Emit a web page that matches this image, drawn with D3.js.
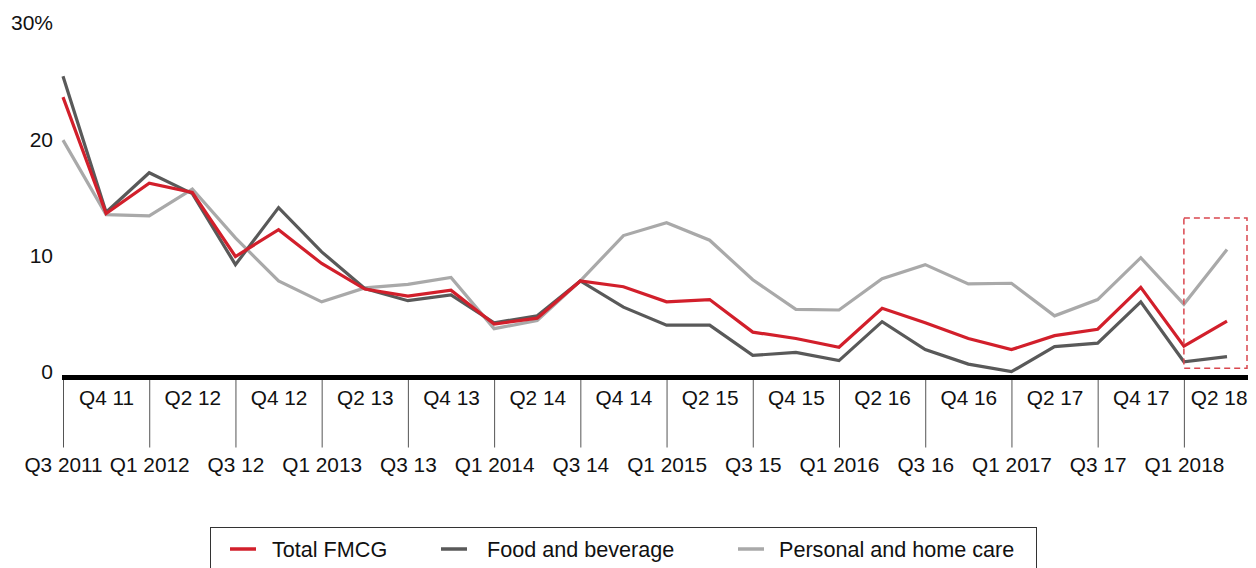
<!DOCTYPE html>
<html>
<head>
<meta charset="utf-8">
<script src="https://cdn.jsdelivr.net/npm/d3@7/dist/d3.min.js"></script>
<style>
  body { margin: 0; background: #fff; }
  svg text { font-family: "Liberation Sans", Arial, sans-serif; fill: #111; }
</style>
</head>
<body>
<svg id="chart" width="1256" height="568"></svg>
<script>
// quarters Q3 2011 .. Q2 2018
let quarters = ["Q3 11", "Q4 11", "Q1 12", "Q2 12", "Q3 12", "Q4 12", "Q1 13", "Q2 13",
    "Q3 13", "Q4 13", "Q1 14", "Q2 14", "Q3 14", "Q4 14", "Q1 15", "Q2 15",
    "Q3 15", "Q4 15", "Q1 16", "Q2 16", "Q3 16", "Q4 16", "Q1 17", "Q2 17",
    "Q3 17", "Q4 17", "Q1 18", "Q2 18"];

let totalFmcg = [23.8, 13.8, 16.4, 15.6, 10.1, 12.4, 9.5, 7.3, 6.7, 7.2, 4.3, 4.8, 8.0, 7.5,
    6.2, 6.4, 3.6, 3.05, 2.3, 5.65, 4.4, 3.05, 2.1, 3.3, 3.85, 7.45, 2.4, 4.55];
let foodBeverage = [25.6, 13.9, 17.3, 15.5, 9.4, 14.3, 10.5, 7.35, 6.3, 6.8, 4.4, 5.0, 8.0, 5.75,
    4.2, 4.2, 1.6, 1.85, 1.15, 4.5, 2.1, 0.85, 0.2, 2.35, 2.65, 6.2, 1.05, 1.5];
let personalHome = [20.1, 13.7, 13.6, 15.9, 11.7, 8.0, 6.2, 7.4, 7.7, 8.3, 3.9, 4.6, 8.0, 11.9,
    13.0, 11.5, 8.1, 5.55, 5.5, 8.2, 9.4, 7.75, 7.8, 5.0, 6.4, 10.0, 6.0, 10.7];

let upperTicks = ["Q4 11", "Q2 12", "Q4 12", "Q2 13", "Q4 13", "Q2 14", "Q4 14", "Q2 15",
    "Q4 15", "Q2 16", "Q4 16", "Q2 17", "Q4 17", "Q2 18"];
let lowerTicks = ["Q3 11", "Q1 12", "Q3 12", "Q1 13", "Q3 13", "Q1 14", "Q3 14", "Q1 15",
    "Q3 15", "Q1 16", "Q3 16", "Q1 17", "Q3 17", "Q1 18"];
let lowerLabels = ["Q3 2011", "Q1 2012", "Q3 12", "Q1 2013", "Q3 13", "Q1 2014", "Q3 14",
    "Q1 2015", "Q3 15", "Q1 2016", "Q3 16", "Q1 2017", "Q3 17", "Q1 2018"];
let yTicks = [0, 10, 20, 30];

let seriesNames = ["Total FMCG", "Food and beverage", "Personal and home care"];
let seriesColors = ["#d21f2b", "#595959", "#a9a9a9"];
let seriesValues = [totalFmcg, foodBeverage, personalHome];

// highlight box (value range) around the latest quarters
let highlightFrom = "Q1 18";
let highlightRange = [0.5, 13.4];

let svg = d3.select("#chart");

let x = d3.scalePoint()
    .domain(quarters)
    .range([63, 1227]);
let y = d3.scaleLinear()
    .domain([0, 30])
    .range([374, 25]);

// y axis labels
let yAx = d3.axisLeft(y)
    .tickValues(yTicks)
    .tickSize(0)
    .tickPadding(0)
    .tickFormat(d => d === 30 ? "30%" : d);
svg.append("g")
    .attr("transform", "translate(53,-2)")
    .call(yAx)
    .call(g => g.select(".domain").remove())
    .call(g => g.selectAll("text")
        .style("font-size", "21px")
        .attr("fill", "#111"));

// lines
let line = d3.line()
    .x((d, i) => x(quarters[i]))
    .y(d => y(d));

seriesValues.slice().reverse().forEach((vals, k) => {
    let idx = seriesValues.length - 1 - k;
    svg.append("path")
        .datum(vals)
        .attr("d", line)
        .attr("fill", "none")
        .attr("stroke", seriesColors[idx])
        .attr("stroke-width", 3.2)
        .attr("stroke-linejoin", "miter");
});

// dashed highlight box
svg.append("rect")
    .attr("x", x(highlightFrom))
    .attr("y", y(highlightRange[1]))
    .attr("width", 1247 - x(highlightFrom))
    .attr("height", y(highlightRange[0]) - y(highlightRange[1]))
    .attr("fill", "none")
    .attr("stroke", "#d9474f")
    .attr("stroke-width", 1.5)
    .attr("stroke-dasharray", "6,4");

// x axis: lower row with long ticks
let axisY = y(0) + 3.5;
let xLower = d3.axisBottom(x)
    .tickValues(lowerTicks)
    .tickSize(70)
    .tickPadding(10)
    .tickFormat(d => lowerLabels[lowerTicks.indexOf(d)]);
svg.append("g")
    .attr("transform", `translate(0,${axisY})`)
    .call(xLower)
    .call(g => g.select(".domain").remove())
    .call(g => g.selectAll("line").attr("stroke", "#555").attr("stroke-width", 1))
    .call(g => g.selectAll("text").style("font-size", "20.8px").attr("fill", "#111"));

let xUpper = d3.axisBottom(x)
    .tickValues(upperTicks)
    .tickSize(0)
    .tickPadding(13);
svg.append("g")
    .attr("transform", `translate(0,${axisY})`)
    .call(xUpper)
    .call(g => g.select(".domain").remove())
    .call(g => g.selectAll("text").style("font-size", "20.8px").attr("fill", "#111"))
    // last label sits against the right edge
    .call(g => g.selectAll(".tick").filter(d => d === "Q2 18").select("text")
        .attr("text-anchor", "end")
        .attr("x", 1247 - x("Q2 18")));

// thick baseline
svg.append("line")
    .attr("x1", 62)
    .attr("x2", 1248)
    .attr("y1", axisY)
    .attr("y2", axisY)
    .attr("stroke", "#000")
    .attr("stroke-width", 5);

// legend
let legend = svg.append("g");
legend.append("rect")
    .attr("x", 210.5)
    .attr("y", 527.5)
    .attr("width", 826)
    .attr("height", 60)
    .attr("fill", "none")
    .attr("stroke", "#333")
    .attr("stroke-width", 1);
let legendX = [230, 441, 738];
let legendTextX = [272, 487, 779];
seriesNames.forEach((name, i) => {
    legend.append("line")
        .attr("x1", legendX[i])
        .attr("x2", legendX[i] + 26)
        .attr("y1", 549)
        .attr("y2", 549)
        .attr("stroke", seriesColors[i])
        .attr("stroke-width", 3.5);
    legend.append("text")
        .attr("x", legendTextX[i])
        .attr("y", 549)
        .attr("dy", "0.35em")
        .style("font-size", "21.6px")
        .text(name);
});
</script>
</body>
</html>
